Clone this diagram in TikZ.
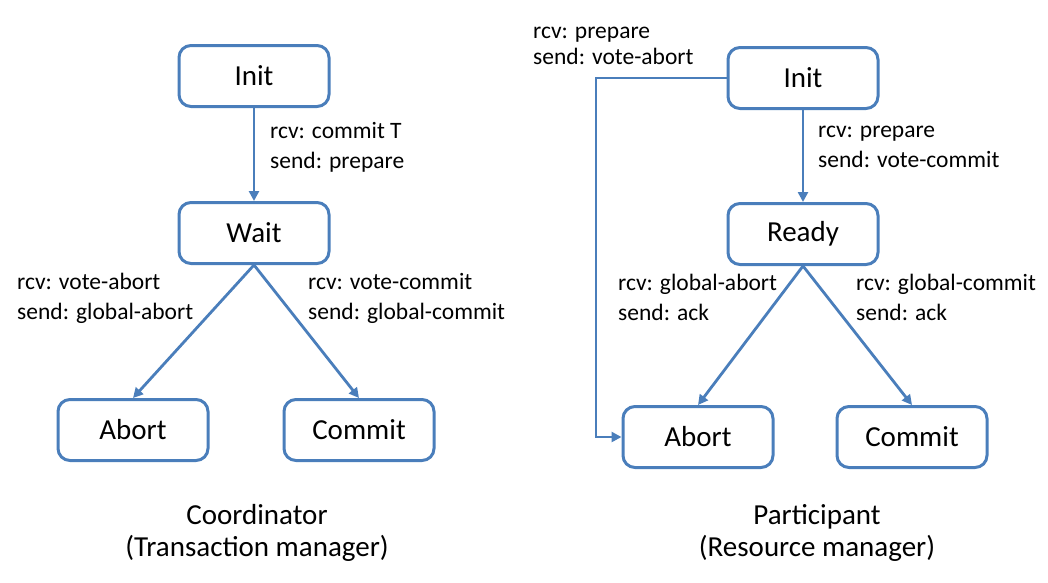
\documentclass[tikz,border=0pt]{standalone}
\usepackage{fontspec}
\setmainfont{Carlito}
\usetikzlibrary{arrows.meta}

\definecolor{stateblue}{RGB}{74,126,187}

\tikzset{
    state/.style={draw=stateblue, line width=3pt, rounded corners=12pt,
        minimum width=150pt, minimum height=61pt, inner sep=0pt,
        font=\fontsize{29}{32}\selectfont},
    trans/.style={draw=stateblue, line width=2.8pt,
        -{Triangle[length=10pt,width=10pt]}},
    msg/.style={anchor=west, align=left, inner sep=0pt,
        font=\fontsize{23.5}{30}\selectfont},
    role/.style={align=center, inner sep=0pt,
        font=\fontsize{29}{32}\selectfont}
}

\begin{document}
\begin{tikzpicture}[x=1pt, y=-1pt]
        \useasboundingbox (0,0) rectangle (1048,582);

        % coordinator
        \node[state] (cinit)   at (254,76)  {Init};
        \node[state] (cwait)   at (254,233) {Wait};
        \node[state] (cabort)  at (133,430) {Abort};
        \node[state] (ccommit) at (359,430) {Commit};

        \draw[trans] (cinit) -- (cwait);
        \draw[trans] (cwait.south) -- (cabort.north);
        \draw[trans] (cwait.south) -- (ccommit.north);

        \node[msg] (cm1) at (270,147) {rcv: commit T\\send: prepare};
        \node[msg] (cm2) at (17,298)  {rcv: vote-abort\\send: global-abort};
        \node[msg] (cm3) at (308,298) {rcv: vote-commit\\send: global-commit};

        \node[role] (coord) at (257,533) {Coordinator\\(Transaction manager)};

        % participant
        \node[state] (pinit)   at (803,78)  {Init};
        \node[state] (pready)  at (803,234) {Ready};
        \node[state] (pabort)  at (698,437) {Abort};
        \node[state] (pcommit) at (912,437) {Commit};

        \coordinate (pbend) at (596,78);

        \draw[trans] (pinit) -- (pready);
        \draw[trans] (pready.south) -- (pabort.north);
        \draw[trans] (pready.south) -- (pcommit.north);
        \draw[trans] (pinit.west) -- (pbend) |- (pabort.west);

        \node[msg] (pm1) at (533,46)  {rcv: prepare\\[-4pt]send: vote-abort};
        \node[msg] (pm2) at (818,147) {rcv: prepare\\send: vote-commit};
        \node[msg] (pm3) at (618,297) {rcv: global-abort\\send: ack};
        \node[msg] (pm4) at (856,297) {rcv: global-commit\\send: ack};

        \node[role] (part) at (817,533) {Participant\\(Resource manager)};

    \end{tikzpicture}
\end{document}
